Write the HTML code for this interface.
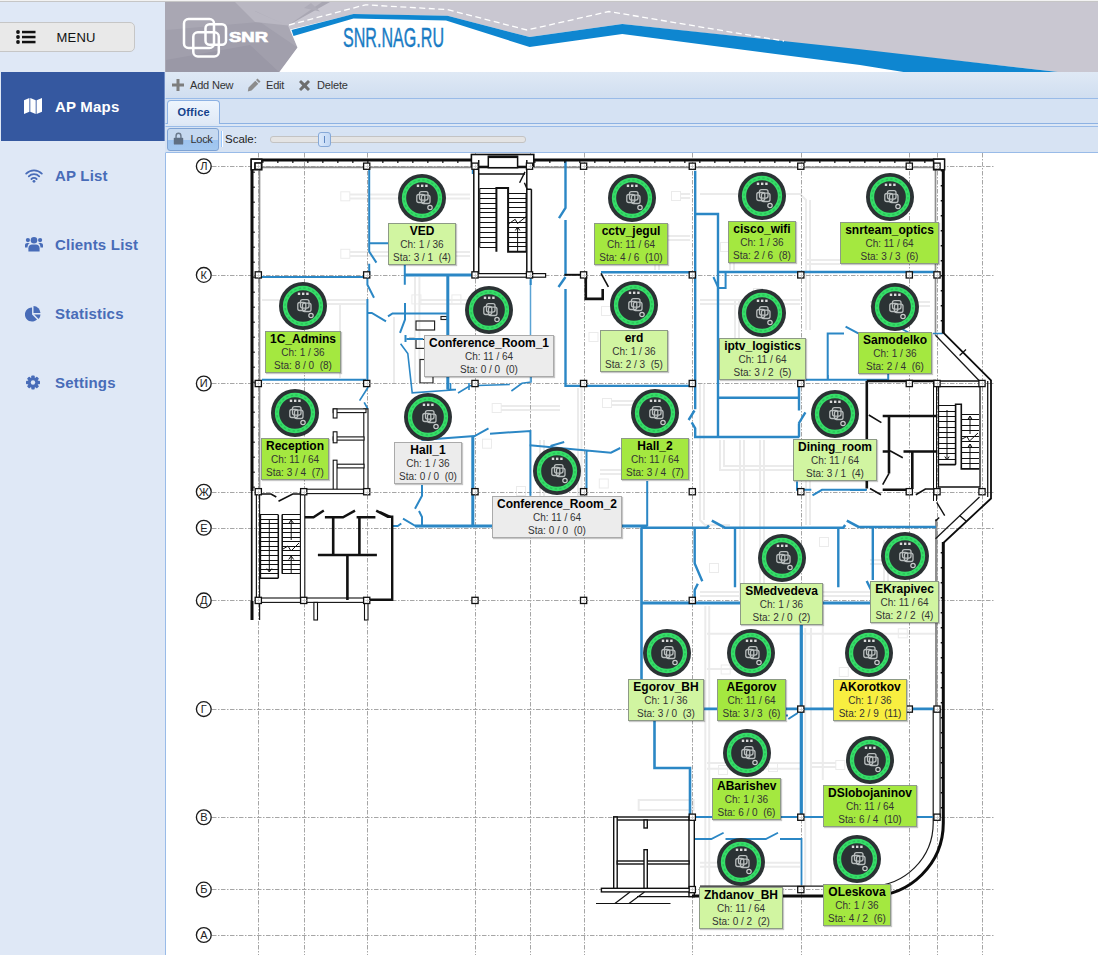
<!DOCTYPE html>
<html lang="en"><head><meta charset="utf-8"><title>SNR.NAG.RU - AP Maps</title>
<style>
html,body{margin:0;padding:0}
body{width:1098px;height:955px;overflow:hidden;position:relative;background:#dfe8f6;font-family:"Liberation Sans",sans-serif;}
#topline{position:absolute;left:0;top:0;width:1098px;height:1px;background:#f2f2f2;border-bottom:1px solid #c6c6c6}
#side{position:absolute;left:0;top:2px;width:165px;height:953px;background:#dfe8f6;}
#menubtn{position:absolute;left:-1px;top:20px;width:134px;height:28px;background:#e9e9e9;border:1px solid #c6c6c6;border-radius:0 5px 5px 0;}
#menubtn span{position:absolute;left:56.500px;top:7px;font-size:13px;letter-spacing:.2px;color:#111;}
#menubtn svg{position:absolute;left:16px;top:7px}
.mi{position:absolute;left:0;width:165px;height:69px;color:#486cb8;font-weight:bold;font-size:15px;}
.mi span{position:absolute;left:55px;top:26px;line-height:17px;white-space:nowrap;letter-spacing:.2px}
.mi svg{position:absolute;left:24px;top:25px}
.mi.act{background:#3558a0;color:#fff;left:1px;width:163px;border-right:1px solid #6f8cc4}
.mi.act span{left:54px}.mi.act svg{left:23px}
#hdr{border-left:1px solid #a9a7b3;position:absolute;left:165px;top:2px;width:932px;height:70px;overflow:hidden;background:#c9c7d1}
#tb1{border-left:1px solid #d9e4f3;position:absolute;left:165px;top:72px;width:932px;height:26px;background:linear-gradient(#dfe9f5,#d0def0);border-bottom:1px solid #99bbe8;font-size:11px;color:#333}
#tb1 span{position:absolute;top:7px;line-height:13px;letter-spacing:-.18px}
#tb1 svg{position:absolute}
#tabs{border-left:1px solid #d5e2f3;position:absolute;left:165px;top:99px;width:932px;height:24px;background:#d5e2f3;border-bottom:1px solid #8db2e3}
#tab{position:absolute;left:1px;top:1px;width:51px;height:23px;border:1px solid #8db2e3;border-bottom:0;border-radius:4px 4px 0 0;background:linear-gradient(#eef5fd,#dfe9f6);}
#tab span{position:absolute;left:9.500px;top:5px;font-size:11px;font-weight:bold;color:#15428b;line-height:13px;letter-spacing:.2px}
#tabsp{position:absolute;left:165px;top:124px;width:933px;height:2px;background:#dce7f5}
#tb2{border-left:1px solid #d7e3f3;position:absolute;left:165px;top:126px;width:933px;height:25px;background:#d7e3f3;border-bottom:1px solid #99bbe8;border-top:1px solid #99bbe8;box-sizing:border-box;height:27px}
#lock{position:absolute;left:1px;top:1px;width:50px;height:21px;border:1px solid #7fa3d4;border-radius:3px;background:linear-gradient(#c6d9f0 0,#c6d9f0 50%,#9dc3ef 51%,#a4c8f0 100%);}
#lock span{position:absolute;left:22.500px;top:4px;letter-spacing:-.3px;font-size:11px;color:#333;line-height:13px}
#lock svg{position:absolute;left:4.500px;top:3px}
#sep{position:absolute;left:55px;top:4px;width:1px;height:16px;background:#98c8ff;border-right:1px solid #fff}
#scale{position:absolute;left:59px;top:5px;font-size:11.500px;color:#222;line-height:14px}
#track{position:absolute;left:104px;top:9px;width:254px;height:5px;border:1px solid #c3c3c3;border-radius:3px;background:#e4e4e4;}
#thumb{position:absolute;left:152px;top:5px;width:11px;height:13px;border:1px solid #86a9d8;border-radius:3px;background:linear-gradient(90deg,#dbe9fb,#c1d7f4)}
#thumb i{position:absolute;left:5px;top:3px;width:1px;height:7px;background:#5e86c0}
#map{position:absolute;left:165px;top:153px;width:933px;height:802px;background:#fff;overflow:hidden;border-left:1px solid #99bbe8;box-sizing:border-box}
#plan{position:absolute;left:-166px;top:-153px}
.ic{position:absolute}
.lb{position:absolute;white-space:nowrap;border:1px solid #8d9a86;padding:0 4px;text-align:center;color:#333;font-size:10px;line-height:13px;height:40px;box-shadow:1px 1px 1px rgba(0,0,0,.22)}
.lb b{display:block;font-size:12px;line-height:14px;color:#000}
.lb span{display:block}
.lb.g{background:#a4e840}.lb.l{background:#d1f5a1}.lb.z{background:#ececec;border-color:#aaa}.lb.y{background:#f8ee40}
</style>
</head>
<body>
<svg width="0" height="0" style="position:absolute"><defs>
<symbol id="apic" viewBox="0 0 48 48">
<circle cx="24" cy="24" r="24" fill="#2b3234"/>
<circle cx="24" cy="24" r="18" fill="none" stroke="#36dd68" stroke-width="4.300"/>
<circle cx="24" cy="24" r="18" fill="none" stroke="#23b552" stroke-width="1.300" stroke-dasharray="2.400 2.300" opacity=".7"/>
<rect x="18.8" y="10.6" width="2.4" height="2.4" fill="#dcdcdc"/><rect x="23" y="10.6" width="2.4" height="2.4" fill="#dcdcdc"/><rect x="27.2" y="10.6" width="2.4" height="2.4" fill="#dcdcdc"/>
<g fill="none" stroke="#b9bebe" stroke-width="1.300"><rect x="18.800" y="20.500" width="8" height="8" rx="2"/><rect x="21.500" y="17.600" width="8.500" height="8.500" rx="2"/><rect x="23.500" y="21.200" width="8.500" height="8.300" rx="2"/></g>
<circle cx="32" cy="33.5" r="2.2" fill="none" stroke="#c9cccc" stroke-width="1.2"/>
</symbol></defs></svg>
<div id="topline"></div>
<div id="side">
 <div id="menubtn"><svg width="20" height="14" viewBox="0 0 20 14"><g fill="#111"><circle cx="2" cy="2" r="1.9"/><circle cx="2" cy="7" r="1.9"/><circle cx="2" cy="12" r="1.9"/><rect x="6" y=".8" width="13.5" height="2.5"/><rect x="6" y="5.8" width="13.5" height="2.5"/><rect x="6" y="10.8" width="13.5" height="2.5"/></g></svg><span>MENU</span></div>
 <div class="mi act" style="top:70px"><svg width="18" height="18" viewBox="0 0 18 18"><path fill="#fff" d="M0 3.2 5.4 1v13.8L0 17zM6.3 1l5.4 2.2V17l-5.4-2.2zM12.6 3.2 18 1v13.8L12.6 17z"/></svg><span>AP Maps</span></div>
 <div class="mi" style="top:139px"><svg style="left:25px;top:27.500px" width="18" height="14" viewBox="0 0 18 14"><g fill="none" stroke="#486cb8" stroke-width="1.800" stroke-linecap="round"><path d="M1.200 4.600a11 11 0 0 1 15.600 0"/><path d="M3.800 7.300a7.300 7.300 0 0 1 10.400 0"/><path d="M6.400 10a3.700 3.700 0 0 1 5.200 0"/></g><circle cx="9" cy="12.300" r="1.400" fill="#486cb8"/></svg><span>AP List</span></div>
 <div class="mi" style="top:208px"><svg style="left:25px" width="18" height="18" viewBox="0 0 18 18"><g fill="#486cb8"><circle cx="9" cy="5.2" r="3.3"/><path d="M3.4 16.5v-3.3c0-2.2 1.6-3.6 3.6-3.6h4c2 0 3.6 1.400 3.600 3.600v3.300z"/><circle cx="2.900" cy="5.100" r="2.100"/><circle cx="15.100" cy="5.100" r="2.100"/><path d="M0 12.500v-2.300c0-1.400 1-2.300 2.300-2.300h2.500c-1.600 1-2.300 2.500-2.300 4.600zM18 12.500v-2.300c0-1.400-1-2.300-2.300-2.300h-2.500c1.600 1 2.300 2.500 2.300 4.600z"/></g></svg><span>Clients List</span></div>
 <div class="mi" style="top:277px"><svg style="left:24.500px;top:26px" width="16.500" height="16.500" viewBox="0 0 18 18"><g fill="#486cb8"><path d="M7.700 2.600v7.700l5.400 5.400a7.700 7.700 0 1 1-5.400-13.100z"/><path d="M9.300 1.200a7.700 7.700 0 0 1 7.600 7.600h-7.600z"/><path d="M10 10.300h6.900a7.700 7.700 0 0 1-2 4.900z"/></g></svg><span>Statistics</span></div>
 <div class="mi" style="top:346px"><svg width="18" height="18" viewBox="0 0 18 18"><g transform="translate(9 9.500)"><g fill="#486cb8"><rect x="-1.700" y="-7" width="3.400" height="14" rx=".8"/><rect x="-1.700" y="-7" width="3.400" height="14" rx=".8" transform="rotate(45)"/><rect x="-1.700" y="-7" width="3.400" height="14" rx=".8" transform="rotate(90)"/><rect x="-1.700" y="-7" width="3.400" height="14" rx=".8" transform="rotate(135)"/><circle r="5.200"/></g><circle r="2.200" fill="#dfe8f6"/></g></svg><span>Settings</span></div>
</div>
<div id="hdr">
<svg width="932" height="70" viewBox="166 2 932 70">
 <rect x="166" y="2" width="932" height="70" fill="#c9c7d1"/>
 <polygon points="166,2 330,2 288,25.400 297.500,47.500 279,72 166,72" fill="#a9a7b3"/>
 <polygon points="166,30 260,22 297.500,47.500 279,72 166,72" fill="#a19fac"/>
 <polygon points="235,2 322,2 288,25.400 255,22" fill="#b9b7c2"/><polygon points="237,3 284.700,24.600 266,16" fill="#a4a2ae"/><polygon points="304,8 311,3 320,11.500" fill="#aeacb8"/>
 <polygon points="166,60 250,45 279,72 166,72" fill="#9a98a6"/>
 <polygon points="290,29.500 353.500,14.200 447.500,15.800 529.600,37 622.300,24 1058,72 279.500,72 297.500,47.500" fill="#fff"/>
 <polygon points="291.500,30 353.500,14 447.500,15.800 529.600,37 622.300,24 860,49.200 1058,72 903.500,72 860,65 622.300,34 529.600,47 446,20.500 353.500,18.500 293.500,36" fill="#0e86d0"/>
 <polyline points="289,25 365.500,4.800 447.500,9.600 527,30 609,11.500 784,41" fill="none" stroke="#fff" stroke-width="1.300" stroke-dasharray="6 3.500"/>
 <g fill="none" stroke="#fff" stroke-width="2.500"><rect x="184" y="19" width="30" height="29" rx="4.500"/><rect x="205.500" y="24.200" width="20.500" height="20.500" rx="4"/><rect x="193.300" y="32.300" width="25.500" height="24.200" rx="4.500"/></g>
 <text x="229" y="41.500" font-family="Liberation Sans, sans-serif" font-weight="bold" font-size="14.800" fill="#fff" stroke="#fff" stroke-width=".700" textLength="39" lengthAdjust="spacingAndGlyphs">SNR</text>
 <text x="343" y="47" font-family="Liberation Sans, sans-serif" font-size="28" fill="#1a7cc4" stroke="#1a7cc4" stroke-width=".450" textLength="101" lengthAdjust="spacingAndGlyphs">SNR.NAG.RU</text>
</svg>
</div>
<div id="tb1">
 <svg style="left:6px;top:7px" width="12" height="12" viewBox="0 0 12 12"><path d="M4.500 0h3v4.500H12v3H7.500V12h-3V7.500H0v-3h4.500z" fill="#7d7d7d"/></svg><span style="left:24px">Add New</span>
 <svg style="left:81px;top:6px" width="14" height="14" viewBox="0 0 14 14"><path d="M10.500.5 13.500 3.500 12 5 9 2zM8.300 2.700l3 3L4.500 12.500.800 13.500 1.500 9.500z" fill="#8c8c8c"/></svg><span style="left:100px">Edit</span>
 <svg style="left:133px;top:8px" width="11" height="11" viewBox="0 0 11 11"><path d="M2 0 5.500 3.300 9 0 11 2 7.700 5.500 11 9 9 11 5.500 7.700 2 11 0 9 3.300 5.500 0 2z" fill="#6e6e6e"/></svg><span style="left:151px">Delete</span>
</div>
<div id="tabs"><div id="tab"><span>Office</span></div></div>
<div id="tabsp"></div>
<div id="tb2">
 <div id="lock"><svg width="11" height="13" viewBox="0 0 14 15" preserveAspectRatio="none"><path d="M3 7V4.500a4 4 0 0 1 8 0V7h-1.800V4.500a2.200 2.200 0 0 0-4.400 0V7z" fill="#6b7a8c"/><rect x="1" y="6.500" width="12" height="8" rx="1" fill="#5f6f83"/></svg><span>Lock</span></div>
 <div id="sep"></div><div id="scale">Scale:</div><div id="track"></div><div id="thumb"><i></i></div>
</div>

<div id="map">
<svg id="plan" width="1098" height="955" viewBox="0 0 1098 955">
<g fill="none" stroke="#ebebeb" stroke-width="1">
<rect x="340.8" y="191.8" width="9" height="9"/>
<rect x="340.8" y="249.3" width="9" height="9"/>
<rect x="411.9" y="294.9" width="9" height="9"/>
<rect x="451.9" y="294.9" width="9" height="9"/>
<rect x="492.2" y="403.5" width="9" height="9"/>
<rect x="482.5" y="439.2" width="9" height="9"/>
<rect x="602.5" y="398.5" width="9" height="9"/>
<rect x="599.3" y="479.0" width="9" height="9"/>
<rect x="516.5" y="486.5" width="9" height="9"/>
<rect x="671.5" y="191.5" width="9" height="9"/>
<rect x="720.5" y="242.5" width="9" height="9"/>
<rect x="589.0" y="332.5" width="9" height="9"/>
<rect x="753.5" y="288.5" width="9" height="9"/>
<rect x="709.5" y="563.5" width="9" height="9"/>
<rect x="791.5" y="555.5" width="9" height="9"/>
<rect x="819.5" y="537.5" width="9" height="9"/>
<rect x="893.5" y="543.5" width="9" height="9"/>
<rect x="901.5" y="304.5" width="9" height="9"/>
<rect x="721.2" y="665.0" width="9" height="9"/>
<rect x="839.3" y="667.5" width="9" height="9"/>
<rect x="898.3" y="628.8" width="9" height="9"/>
<rect x="718.5" y="765.5" width="9" height="9"/>
<rect x="768.5" y="762.5" width="9" height="9"/>
<rect x="835.8" y="760.5" width="9" height="9"/>
<rect x="601.5" y="306.5" width="9" height="9"/>
<path d="M350,194.500H470M350,198.500H470M350,252H388M350,256H388M456,252H470M456,256H470" stroke-width="2"/>
<path d="M262,300H366M300,304H366M340,304V378M415,277V383M419.400,277V383M394,317V383M420,300H470M420,304H470" stroke-width="2"/>
<path d="M501,406H560M501,410H560M578,388V520M581.500,388V520M540,440V520M544,440V520" stroke-width="2"/>
<path d="M680,194H690M680,198H690M600,236H690M600,240H690M655,240V270M659,240V270" stroke-width="2"/>
<path d="M700,194H800L806,200V330M810,200V330M730,247V270M734,247V270M700,300H800M700,304H800M735,300V378M739,300V378" stroke-width="2"/>
<path d="M806,260H840M806,264H840M870,302H930M870,306H930" stroke-width="2"/>
<path d="M600,470H640M600,474H640M612,401H650M612,405H650M700,383V520L705,525H730M704,383V520" stroke-width="2"/>
<path d="M720,440V470H800M724,440V466H800M740,440V600M744,440V600M760,440V600M764,440V600" stroke-width="2"/>
<path d="M806,440V525M810,440V525M705.300,606V886M709.200,606V886M805.200,628V886M811,628V886M822.800,606V780" stroke-width="2"/>
<path d="M700,596H935M700,592H935M707,633.700H935M707,669H760M707,763H800M707,768.800H800M638.700,800H693.600V810H638.700ZM812,763H836M812,767H836M700,862.800H800M700,866.700H800" stroke-width="2"/>
<path d="M870,560H900M870,564H900M884,540V600M888,540V600" stroke-width="2"/>
</g>
<g fill="none" stroke="#1e1e1e" stroke-width="1.150">
<rect x="416" y="321" width="18.600" height="9"/><rect x="416" y="339.400" width="9" height="9"/><rect x="420" y="359.500" width="13" height="23.500"/>
<rect x="441" y="316.500" width="6" height="3"/><path d="M409,338.800H414.500" stroke-width="2"/>
</g>
<g stroke="#a6a6a6" stroke-width="1" stroke-dasharray="4.500 1.500 1.500 1.500" fill="none">
<line x1="258.5" y1="153" x2="258.5" y2="955"/>
<line x1="304.5" y1="153" x2="304.5" y2="955"/>
<line x1="367.5" y1="153" x2="367.5" y2="955"/>
<line x1="475.5" y1="153" x2="475.5" y2="955"/>
<line x1="530.5" y1="153" x2="530.5" y2="955"/>
<line x1="584.5" y1="153" x2="584.5" y2="955"/>
<line x1="692.5" y1="153" x2="692.5" y2="955"/>
<line x1="801.5" y1="153" x2="801.5" y2="955"/>
<line x1="909.5" y1="153" x2="909.5" y2="955"/>
<line x1="937.5" y1="153" x2="937.5" y2="955"/>
<line x1="982.5" y1="153" x2="982.5" y2="955"/>
<line x1="212" y1="166.5" x2="994" y2="166.5"/>
<line x1="212" y1="275.5" x2="994" y2="275.5"/>
<line x1="212" y1="383.5" x2="994" y2="383.5"/>
<line x1="212" y1="492.5" x2="994" y2="492.5"/>
<line x1="212" y1="528.5" x2="994" y2="528.5"/>
<line x1="212" y1="600.5" x2="994" y2="600.5"/>
<line x1="212" y1="709.5" x2="994" y2="709.5"/>
<line x1="212" y1="817.5" x2="994" y2="817.5"/>
<line x1="212" y1="889.5" x2="994" y2="889.5"/>
<line x1="212" y1="935.5" x2="994" y2="935.5"/>
</g>
<g font-family="Liberation Sans, sans-serif" font-size="11" text-anchor="middle" fill="#222">
<circle cx="203.800" cy="166.2" r="7.400" fill="#fff" stroke="#1c1c1c" stroke-width="1.350"/><text x="203.800" y="170">Л</text>
<circle cx="203.800" cy="274.9" r="7.400" fill="#fff" stroke="#1c1c1c" stroke-width="1.350"/><text x="203.800" y="278.7">К</text>
<circle cx="203.800" cy="383.5" r="7.400" fill="#fff" stroke="#1c1c1c" stroke-width="1.350"/><text x="203.800" y="387.3">И</text>
<circle cx="203.800" cy="491.7" r="7.400" fill="#fff" stroke="#1c1c1c" stroke-width="1.350"/><text x="203.800" y="495.5">Ж</text>
<circle cx="203.800" cy="527.7" r="7.400" fill="#fff" stroke="#1c1c1c" stroke-width="1.350"/><text x="203.800" y="531.5">Е</text>
<circle cx="203.800" cy="600.4000000000001" r="7.400" fill="#fff" stroke="#1c1c1c" stroke-width="1.350"/><text x="203.800" y="604.2">Д</text>
<circle cx="203.800" cy="709.1" r="7.400" fill="#fff" stroke="#1c1c1c" stroke-width="1.350"/><text x="203.800" y="712.9">Г</text>
<circle cx="203.800" cy="817.2" r="7.400" fill="#fff" stroke="#1c1c1c" stroke-width="1.350"/><text x="203.800" y="821">В</text>
<circle cx="203.800" cy="889.6" r="7.400" fill="#fff" stroke="#1c1c1c" stroke-width="1.350"/><text x="203.800" y="893.4">Б</text>
<circle cx="203.800" cy="935.0" r="7.400" fill="#fff" stroke="#1c1c1c" stroke-width="1.350"/><text x="203.800" y="938.8">А</text>
</g>
<g fill="none" stroke="#8e8e8e" stroke-width="1.700">
<path d="M259.500,491V167.300H472M534,167.300H935.500V335.500" stroke-width="1.7"/>
<path d="M936.200,519V709" stroke-width="2.4"/>
</g><g fill="none" stroke="#1a1a1a" stroke-width="1.200">
<path d="M935.500,335.300L979.500,381M979.500,497L935.500,538.700M987.700,381V497" stroke-width="1.3"/>
<path d="M256.400,491V598M259.600,491V598M259.600,602V620" stroke-width="1.2"/>
<rect x="933.200" y="709" width="6.900" height="108" fill="#fff"/>
<path d="M933.200,817V823A63.200,63.200 0 0 1 870,886.200H700" stroke-width="1.2"/>
</g>
<g fill="none" stroke="#2b87c5" stroke-linecap="butt" stroke-linejoin="miter">
<path d="M369.200,169.700V251.600L376.400,262.600M369.200,243.300H388M369.200,263.700V275" stroke-width="2"/>
<path d="M262,277H365M262,379.800H366" stroke-width="2"/>
<path d="M367.400,275V284.700L374,297.800M367.400,299V381M367.400,313H371.800L386,321.400" stroke-width="2"/>
<path d="M404.800,265V284.700M405,303V319.600L400,332.800M406.700,339H423M405.500,335V342" stroke-width="2"/>
<path d="M404.800,275H472" stroke-width="3"/>
<path d="M447.800,276V389.600" stroke-width="3"/>
<path d="M388,316.400L392.500,313.500H447.800" stroke-width="2"/>
<path d="M400.600,343.700L407.800,353.500L412.200,392.900L455.800,389.700M447.500,389.600H456M450.500,383V390M469,383V390" stroke-width="1.6"/>
<path d="M458,393L470,385.700L509.800,384.500M511.400,391L522,383.300L531.500,382M531,375V382" stroke-width="1.6"/>
<path d="M530.500,280V383" stroke-width="1.5" stroke="#5aa3d4"/>
<path d="M565.500,161V208L559,218.200M565.500,220V275.700M565.500,277L558.500,287M565.500,289V385.900H694.500" stroke-width="2.4"/>
<path d="M601,272.200H692" stroke-width="2.4"/>
<path d="M472.800,169.800V174M530.700,278V285" stroke-width="2"/>
<path d="M902,329L908.500,332.500M933,333.500H942.700M368.200,387L359.600,400.600M364.200,402.400L367.800,409" stroke-width="1.7"/>
<path d="M695.200,170.800V409.300M694.500,410.500L688.600,420M691.700,422.400L695.200,428.300V437H799.400" stroke-width="2.4"/>
<path d="M695,214H718V437" stroke-width="2.4"/>
<path d="M718,272H935" stroke-width="2.4"/>
<path d="M725.600,272V288H718M713.400,277L718,287" stroke-width="2"/>
<path d="M805.200,379.800H889M888.200,374V380M827.700,380V333.400H844M845.600,326.600L858.300,333.400M827.900,375V379.700" stroke-width="2"/>
<path d="M718,397.700H798.600" stroke-width="2.4"/>
<path d="M799,383V410.500M805.400,412.400L798.700,423.500M799,423.500V437" stroke-width="2.4"/>
<path d="M421.400,440L474.700,436L488.500,428.300M490,433.700L530.400,431V495.800" stroke-width="2"/>
<path d="M472.800,436V526" stroke-width="3"/>
<path d="M393,526H397.700L401.300,523.500M403,518.700L415.500,526" stroke-width="2"/>
<path d="M415,526H647.200" stroke-width="3"/>
<path d="M529.700,445.300L610.900,452.700L620.300,448M550.500,446L564.200,442M586.500,450.300V488.700" stroke-width="2"/>
<path d="M422,485V495.800L415,508.800M419,511L422,517V526M647.200,481V526.500" stroke-width="2"/>
<path d="M640.800,527.700H707L709,525.500M711.800,520.600L724.800,527.700H843.200L845.200,525M846.800,520.600L858.600,527H936" stroke-width="2.6"/>
<path d="M641.500,527.700V680M654.500,721V768H690V817" stroke-width="2.6"/>
<path d="M694.700,527V563.500L702.300,581.300M697.800,583.700L694.700,590V600M735,527V587.200M838.300,527V587.200M872.800,527.500V580M866.700,581L871,589.800" stroke-width="2.4"/>
<path d="M641,603H871" stroke-width="3"/>
<path d="M801.300,625V817" stroke-width="3.2"/>
<path d="M704.200,708.900H937" stroke-width="2.6"/>
<path d="M692,817H937" stroke-width="2"/>
<path d="M692,839H711.300L723.600,832.700M725.500,839H765.800L778,832.700M780,839H801.500V885" stroke-width="1.8"/>
<path d="M783.500,715.500H788M788.300,719L797.700,713" stroke-width="2"/>
<path d="M797,481.600V489.800H811.300M812.500,495.300L822,489.800H867M850,490H866" stroke-width="2"/>
</g>
<g fill="none" stroke="#111" stroke-linecap="butt">
<rect x="473.800" y="166" width="57.600" height="109" fill="#fff" stroke="none"/>
<rect x="471.400" y="154.500" width="62.400" height="12" fill="#fff" stroke-width="1.600"/>
<path d="M473.800,166V275M478.700,160V275M526.800,160V275M531.400,189.300V275" stroke-width="1.5"/>
<rect x="488.300" y="156.200" width="29.300" height="11.500" fill="#fff" stroke-width="1.500"/>
<path d="M488.300,157H517.600" stroke-width="2.2"/>
<path d="M478.700,167.700H526.800M478.700,174H525" stroke-width="1.3"/>
<path d="M479.8,188.2H496.4M479.8,193.1H496.4M479.8,198.1H496.4M479.8,203.0H496.4M479.8,208.0H496.4M479.8,212.9H496.4M479.8,217.8H496.4M479.8,222.8H496.4M479.8,227.7H496.4M479.8,232.7H496.4M479.8,237.6H496.4M479.8,242.6H496.4M479.8,247.5H496.4" stroke-width="1" shape-rendering="crispEdges"/>
<path d="M508.1,193.1H526M508.1,198.0H526M508.1,202.9H526M508.1,207.8H526M508.1,212.7H526M508.1,217.6H526M508.1,222.4H526M508.1,227.3H526M508.1,232.2H526M508.1,237.1H526M508.1,242.0H526M508.1,246.9H526M508.1,251.8H526" stroke-width="1" shape-rendering="crispEdges"/>
<path d="M496.400,251.800V187.900H508.100V251.800H526" stroke-width="2"/>
<path d="M479.800,188.200V247.500M526,193.100V251.800" stroke-width="1"/>
<path d="M517.600,227V251.800M508.100,224.200L515.200,219.300L517.500,223.500L526.800,216.100M515.300,230.500L517.600,227L519.900,230.500" stroke-width="1"/>
<path d="M525,171.900L519.600,182.800M524.400,182.800L527.200,189.300H531.400" stroke-width="1.4"/>
<rect x="473.800" y="273.600" width="71.800" height="3.600" fill="#fff" stroke-width="1.200"/>
<path d="M564.400,274.800H583" stroke-width="2"/>
<path d="M585.800,277V298.900H602.700V289" stroke-width="2.6"/>
<path d="M601,273.300L608.400,286.900" stroke-width="1.6"/>
<g fill="#fff" stroke-width="1.100">
<rect x="363.8" y="408.9" width="4.2" height="82.1"/>
<rect x="333.2" y="408.9" width="32.8" height="3.7"/>
<rect x="333.2" y="408.9" width="3.8" height="9.1"/>
<rect x="333.2" y="436.9" width="30.8" height="3.2"/>
<rect x="333.2" y="431.8" width="3.8" height="11.0"/>
<rect x="337" y="464.2" width="27.0" height="3.7"/>
<rect x="333.2" y="460.2" width="3.8" height="30.8"/>
<rect x="303.7" y="489.2" width="62.9" height="4.4"/>
<rect x="300.4" y="491.6" width="4.4" height="108.6"/>
<rect x="258.4" y="598" width="108.2" height="4.4"/>
<rect x="313.9" y="602.4" width="3.6" height="17.6"/>
<rect x="364.5" y="602.4" width="3.5" height="17.6"/>
</g>
<path d="M260.4,514.5H278.3M260.4,519.1H278.3M260.4,523.6H278.3M260.4,528.2H278.3M260.4,532.7H278.3M260.4,537.3H278.3M260.4,541.8H278.3M260.4,546.4H278.3M260.4,550.9H278.3M260.4,555.5H278.3M260.4,560.0H278.3M260.4,564.6H278.3M260.4,569.1H278.3M260.4,573.7H278.3" stroke-width="1" shape-rendering="crispEdges"/>
<path d="M282.2,514.5H300.4M282.2,519.1H300.4M282.2,523.6H300.4M282.2,528.2H300.4M282.2,532.7H300.4M282.2,537.3H300.4M282.2,541.8H300.4M282.2,546.4H300.4M282.2,550.9H300.4M282.2,555.5H300.4M282.2,560.0H300.4M282.2,564.6H300.4M282.2,569.1H300.4M282.2,573.7H300.4" stroke-width="1" shape-rendering="crispEdges"/>
<path d="M278.300,514.500V578.200M282.200,514.500V573.700M260.400,514.500V578.200H278.300" stroke-width="1.5"/>
<path d="M269.300,520V572M266.800,568.500L269.300,572L271.800,568.500M291.200,520V540M291.200,556V573M288.700,523.500L291.200,520L293.700,523.500M288.700,559.500L291.200,556L293.700,559.500M283,549L288,546L291,551L299,543" stroke-width="1"/>
<path d="M262,494H271L276.300,497M278.500,501.300L292.700,494H303" stroke-width="1.6"/>
<path d="M304.800,517.200H313.500L323.800,510.600M324.900,517.200H343L355,510.600M356.600,517.200H375.400M376.200,510.600L387.800,516.700H392.200V599.800H366.600" stroke-width="2.4"/>
<path d="M333.200,517.200V555M359.400,517.200V555M317.900,555H376.900M347.400,555V600" stroke-width="2.6"/>
<path d="M380,512L390.700,517" stroke-width="2"/>
<path d="M866.800,381V488.500M866.800,381H936M882.700,416H936M889,416V473.400M882.700,451.500H890.200M903.500,451.500H936M912.300,451.500V489M882.700,489.700H912" stroke-width="2.6"/>
<path d="M868.800,415L881.400,422.600M890,450.800L902.800,457.800M889,473.400L882.700,484.700M870,488.500L881,494.800M915.800,494.800L925.400,489H936" stroke-width="1.6"/>
<path d="M936.700,502.300L944.700,515.600M939.200,517.400L935.500,521" stroke-width="1.4"/>
<path d="M936,381H982M936,386.700H980M938.500,386.700V487H980V386.700" stroke-width="1.3"/>
<path d="M936.500,381V501M933.500,381V501" stroke-width="1" shape-rendering="crispEdges"/>
<path d="M939.2,405.6H955.6M939.2,411.0H955.6M939.2,416.3H955.6M939.2,421.7H955.6M939.2,427.1H955.6M939.2,432.4H955.6M939.2,437.8H955.6M939.2,443.1H955.6M939.2,448.5H955.6M939.2,453.9H955.6M939.2,459.2H955.6M939.2,464.6H955.6" stroke-width="1" shape-rendering="crispEdges"/>
<path d="M961.3,414.4H979.4M961.3,419.8H979.4M961.3,425.3H979.4M961.3,430.8H979.4M961.3,436.2H979.4M961.3,441.6H979.4M961.3,447.1H979.4M961.3,452.5H979.4M961.3,458.0H979.4M961.3,463.4H979.4M961.3,468.9H979.4" stroke-width="1" shape-rendering="crispEdges"/>
<path d="M955.600,464.600V404.300H961.300V468.900H979.400M939.200,464.600H955.600" stroke-width="1.6"/>
<path d="M947,410V460M944.800,456.500L947,460L949.200,456.500M970,416V434M970,444V468M967.800,419.500L970,416L972.200,419.500M967.800,447.500L970,444L972.200,447.500M962,439L967,436.500L969.500,441L978,433" stroke-width="1"/>
<path d="M959.600,515.500L966,521M959.600,355.500L966,349.500" stroke-width="1.3"/>
<g fill="#fff" stroke-width="1.400">
<rect x="613.7" y="817" width="78.3" height="3.0"/>
<rect x="613.7" y="817" width="3.5" height="71.8"/>
<rect x="689" y="817" width="5.3" height="79.6"/>
<rect x="617.2" y="861" width="71.8" height="3.0"/>
<rect x="644" y="820" width="3.3" height="8.0"/>
<rect x="644" y="849.7" width="3.3" height="39.3"/>
<rect x="601.4" y="888.3" width="90.6" height="3.6"/>
</g>
<path d="M630,892L614.900,903.500M644.500,892L629,903.500M596,903.500H670.500M637,896.600H692" stroke-width="1.2"/>
</g>
<g fill="none" stroke="#0c0c0c" stroke-width="3.200" stroke-linejoin="miter">
<path d="M252,491V160H472M534,160H943.300V333.500M943.300,542V823A73,73 0 0 1 870,896H692M252,601V620" stroke-width="3"/>
<path d="M251.700,491V601" stroke-width="1.7"/>
<path d="M943.300,332.700L991,380.400V498.500L943.300,543" stroke-width="1.8"/>
</g>
<g fill="none" stroke="#0c0c0c" stroke-dasharray="1.600 13.400">
<path d="M254,488V170M262,162H472M534,162H933M941.400,170V332M941.400,552V820" stroke-width="1.3"/>
</g>
<rect x="933.600" y="159.200" width="11" height="10.600" fill="#fff" stroke="#111" stroke-width="1.500"/>
<rect x="251.200" y="159.200" width="10.600" height="10.600" fill="#fff" stroke="#111" stroke-width="1.500"/>
<path d="M254.800,169.800V163H261.800" fill="none" stroke="#111" stroke-width="1.300"/>
<g fill="#fff" stroke="#111" stroke-width="1.300">
<rect x="255.2" y="163.1" width="6.200" height="6.200"/>
<rect x="363.6" y="163.1" width="6.200" height="6.200"/>
<rect x="471.9" y="163.1" width="6.200" height="6.200"/>
<rect x="526.4" y="163.1" width="6.200" height="6.200"/>
<rect x="580.5" y="163.1" width="6.200" height="6.200"/>
<rect x="689.2" y="163.1" width="6.200" height="6.200"/>
<rect x="797.7" y="163.1" width="6.200" height="6.200"/>
<rect x="906.2" y="163.1" width="6.200" height="6.200"/>
<rect x="933.9" y="163.1" width="6.200" height="6.200"/>
<rect x="255.2" y="271.8" width="6.200" height="6.200"/>
<rect x="363.6" y="271.8" width="6.200" height="6.200"/>
<rect x="471.9" y="271.8" width="6.200" height="6.200"/>
<rect x="526.4" y="271.8" width="6.200" height="6.200"/>
<rect x="580.5" y="271.8" width="6.200" height="6.200"/>
<rect x="689.2" y="271.8" width="6.200" height="6.200"/>
<rect x="797.7" y="271.8" width="6.200" height="6.200"/>
<rect x="906.2" y="271.8" width="6.200" height="6.200"/>
<rect x="933.9" y="271.8" width="6.200" height="6.200"/>
<rect x="255.2" y="380.4" width="6.200" height="6.200"/>
<rect x="363.6" y="380.4" width="6.200" height="6.200"/>
<rect x="471.9" y="380.4" width="6.200" height="6.200"/>
<rect x="580.5" y="380.4" width="6.200" height="6.200"/>
<rect x="689.2" y="380.4" width="6.200" height="6.200"/>
<rect x="797.7" y="380.4" width="6.200" height="6.200"/>
<rect x="906.2" y="380.4" width="6.200" height="6.200"/>
<rect x="933.9" y="380.4" width="6.200" height="6.200"/>
<rect x="978.9" y="380.4" width="6.200" height="6.200"/>
<rect x="255.2" y="488.6" width="6.200" height="6.200"/>
<rect x="300.6" y="488.6" width="6.200" height="6.200"/>
<rect x="363.6" y="488.6" width="6.200" height="6.200"/>
<rect x="471.9" y="488.6" width="6.200" height="6.200"/>
<rect x="580.5" y="488.6" width="6.200" height="6.200"/>
<rect x="689.2" y="488.6" width="6.200" height="6.200"/>
<rect x="797.7" y="488.6" width="6.200" height="6.200"/>
<rect x="906.2" y="488.6" width="6.200" height="6.200"/>
<rect x="933.9" y="488.6" width="6.200" height="6.200"/>
<rect x="978.9" y="488.6" width="6.200" height="6.200"/>
<rect x="255.2" y="597.3" width="6.200" height="6.200"/>
<rect x="300.6" y="597.3" width="6.200" height="6.200"/>
<rect x="363.6" y="597.3" width="6.200" height="6.200"/>
<rect x="471.9" y="597.3" width="6.200" height="6.200"/>
<rect x="580.5" y="597.3" width="6.200" height="6.200"/>
<rect x="689.2" y="597.3" width="6.200" height="6.200"/>
<rect x="797.7" y="706.0" width="6.200" height="6.200"/>
<rect x="906.2" y="706.0" width="6.200" height="6.200"/>
<rect x="933.9" y="706.0" width="6.200" height="6.200"/>
<rect x="689.2" y="814.1" width="6.200" height="6.200"/>
<rect x="797.7" y="814.1" width="6.200" height="6.200"/>
<rect x="933.9" y="814.1" width="6.200" height="6.200"/>
<rect x="689.2" y="886.5" width="6.200" height="6.200"/>
<rect x="797.7" y="886.5" width="6.200" height="6.200"/>
</g>
<g stroke="#cfcfcf" stroke-width="1">
<path d="M258.5,164.5v4M256.5,166.5h4"/>
<path d="M367.5,164.5v4M365.5,166.5h4"/>
<path d="M475.5,164.5v4M473.5,166.5h4"/>
<path d="M530.5,164.5v4M528.5,166.5h4"/>
<path d="M584.5,164.5v4M582.5,166.5h4"/>
<path d="M692.5,164.5v4M690.5,166.5h4"/>
<path d="M801.5,164.5v4M799.5,166.5h4"/>
<path d="M909.5,164.5v4M907.5,166.5h4"/>
<path d="M937.5,164.5v4M935.5,166.5h4"/>
<path d="M258.5,273.5v4M256.5,275.5h4"/>
<path d="M367.5,273.5v4M365.5,275.5h4"/>
<path d="M475.5,273.5v4M473.5,275.5h4"/>
<path d="M530.5,273.5v4M528.5,275.5h4"/>
<path d="M584.5,273.5v4M582.5,275.5h4"/>
<path d="M692.5,273.5v4M690.5,275.5h4"/>
<path d="M801.5,273.5v4M799.5,275.5h4"/>
<path d="M909.5,273.5v4M907.5,275.5h4"/>
<path d="M937.5,273.5v4M935.5,275.5h4"/>
<path d="M258.5,381.5v4M256.5,383.5h4"/>
<path d="M367.5,381.5v4M365.5,383.5h4"/>
<path d="M475.5,381.5v4M473.5,383.5h4"/>
<path d="M584.5,381.5v4M582.5,383.5h4"/>
<path d="M692.5,381.5v4M690.5,383.5h4"/>
<path d="M801.5,381.5v4M799.5,383.5h4"/>
<path d="M909.5,381.5v4M907.5,383.5h4"/>
<path d="M937.5,381.5v4M935.5,383.5h4"/>
<path d="M982.5,381.5v4M980.5,383.5h4"/>
<path d="M258.5,490.5v4M256.5,492.5h4"/>
<path d="M304.5,490.5v4M302.5,492.5h4"/>
<path d="M367.5,490.5v4M365.5,492.5h4"/>
<path d="M475.5,490.5v4M473.5,492.5h4"/>
<path d="M584.5,490.5v4M582.5,492.5h4"/>
<path d="M692.5,490.5v4M690.5,492.5h4"/>
<path d="M801.5,490.5v4M799.5,492.5h4"/>
<path d="M909.5,490.5v4M907.5,492.5h4"/>
<path d="M937.5,490.5v4M935.5,492.5h4"/>
<path d="M982.5,490.5v4M980.5,492.5h4"/>
<path d="M258.5,598.5v4M256.5,600.5h4"/>
<path d="M304.5,598.5v4M302.5,600.5h4"/>
<path d="M367.5,598.5v4M365.5,600.5h4"/>
<path d="M475.5,598.5v4M473.5,600.5h4"/>
<path d="M584.5,598.5v4M582.5,600.5h4"/>
<path d="M692.5,598.5v4M690.5,600.5h4"/>
<path d="M801.5,707.5v4M799.5,709.5h4"/>
<path d="M909.5,707.5v4M907.5,709.5h4"/>
<path d="M937.5,707.5v4M935.5,709.5h4"/>
<path d="M692.5,815.5v4M690.5,817.5h4"/>
<path d="M801.5,815.5v4M799.5,817.5h4"/>
<path d="M937.5,815.5v4M935.5,817.5h4"/>
<path d="M692.5,887.5v4M690.5,889.5h4"/>
<path d="M801.5,887.5v4M799.5,889.5h4"/>
</g>
</svg>
<svg class="ic" style="left:232px;top:21px" width="48" height="48" viewBox="0 0 48 48"><use href="#apic"/></svg><div class="lb l" style="left:222px;top:70px;width:58px"><b>VED</b><span>Ch: 1 / 36</span><span>Sta: 3 / 1&nbsp; (4)</span></div>
<svg class="ic" style="left:442px;top:21px" width="48" height="48" viewBox="0 0 48 48"><use href="#apic"/></svg><div class="lb g" style="left:428px;top:70px;width:64px"><b>cctv_jegul</b><span>Ch: 11 / 64</span><span>Sta: 4 / 6&nbsp; (10)</span></div>
<svg class="ic" style="left:572px;top:19px" width="48" height="48" viewBox="0 0 48 48"><use href="#apic"/></svg><div class="lb g" style="left:562px;top:68px;width:58px"><b>cisco_wifi</b><span>Ch: 1 / 36</span><span>Sta: 2 / 6&nbsp; (8)</span></div>
<svg class="ic" style="left:700px;top:20px" width="48" height="48" viewBox="0 0 48 48"><use href="#apic"/></svg><div class="lb g" style="left:674px;top:69px;width:89px"><b>snrteam_optics</b><span>Ch: 11 / 64</span><span>Sta: 3 / 3&nbsp; (6)</span></div>
<svg class="ic" style="left:113px;top:129px" width="48" height="48" viewBox="0 0 48 48"><use href="#apic"/></svg><div class="lb g" style="left:99px;top:178px;width:66px"><b>1C_Admins</b><span>Ch: 1 / 36</span><span>Sta: 8 / 0&nbsp; (8)</span></div>
<svg class="ic" style="left:299px;top:133px" width="48" height="48" viewBox="0 0 48 48"><use href="#apic"/></svg><div class="lb z" style="left:258px;top:182px;width:120px"><b>Conference_Room_1</b><span>Ch: 11 / 64</span><span>Sta: 0 / 0&nbsp; (0)</span></div>
<svg class="ic" style="left:444px;top:128px" width="48" height="48" viewBox="0 0 48 48"><use href="#apic"/></svg><div class="lb l" style="left:434px;top:177px;width:58px"><b>erd</b><span>Ch: 1 / 36</span><span>Sta: 2 / 3&nbsp; (5)</span></div>
<svg class="ic" style="left:572px;top:136px" width="48" height="48" viewBox="0 0 48 48"><use href="#apic"/></svg><div class="lb l" style="left:553px;top:185px;width:77px"><b>iptv_logistics</b><span>Ch: 11 / 64</span><span>Sta: 3 / 2&nbsp; (5)</span></div>
<svg class="ic" style="left:705px;top:130px" width="48" height="48" viewBox="0 0 48 48"><use href="#apic"/></svg><div class="lb g" style="left:692px;top:179px;width:64px"><b>Samodelko</b><span>Ch: 1 / 36</span><span>Sta: 2 / 4&nbsp; (6)</span></div>
<svg class="ic" style="left:105px;top:236px" width="48" height="48" viewBox="0 0 48 48"><use href="#apic"/></svg><div class="lb g" style="left:95px;top:285px;width:58px"><b>Reception</b><span>Ch: 11 / 64</span><span>Sta: 3 / 4&nbsp; (7)</span></div>
<svg class="ic" style="left:238px;top:240px" width="48" height="48" viewBox="0 0 48 48"><use href="#apic"/></svg><div class="lb z" style="left:228px;top:289px;width:58px"><b>Hall_1</b><span>Ch: 1 / 36</span><span>Sta: 0 / 0&nbsp; (0)</span></div>
<svg class="ic" style="left:465px;top:236px" width="48" height="48" viewBox="0 0 48 48"><use href="#apic"/></svg><div class="lb g" style="left:455px;top:285px;width:58px"><b>Hall_2</b><span>Ch: 11 / 64</span><span>Sta: 3 / 4&nbsp; (7)</span></div>
<svg class="ic" style="left:645px;top:237px" width="48" height="48" viewBox="0 0 48 48"><use href="#apic"/></svg><div class="lb l" style="left:627px;top:286px;width:74px"><b>Dining_room</b><span>Ch: 11 / 64</span><span>Sta: 3 / 1&nbsp; (4)</span></div>
<svg class="ic" style="left:367px;top:294px" width="48" height="48" viewBox="0 0 48 48"><use href="#apic"/></svg><div class="lb z" style="left:326px;top:343px;width:120px"><b>Conference_Room_2</b><span>Ch: 11 / 64</span><span>Sta: 0 / 0&nbsp; (0)</span></div>
<svg class="ic" style="left:592px;top:381px" width="48" height="48" viewBox="0 0 48 48"><use href="#apic"/></svg><div class="lb l" style="left:574px;top:430px;width:73px"><b>SMedvedeva</b><span>Ch: 1 / 36</span><span>Sta: 2 / 0&nbsp; (2)</span></div>
<svg class="ic" style="left:715px;top:379px" width="48" height="48" viewBox="0 0 48 48"><use href="#apic"/></svg><div class="lb l" style="left:704px;top:428px;width:59px"><b>EKrapivec</b><span>Ch: 11 / 64</span><span>Sta: 2 / 2&nbsp; (4)</span></div>
<svg class="ic" style="left:477px;top:476px" width="48" height="48" viewBox="0 0 48 48"><use href="#apic"/></svg><div class="lb l" style="left:462px;top:526px;width:66px"><b>Egorov_BH</b><span>Ch: 1 / 36</span><span>Sta: 3 / 0&nbsp; (3)</span></div>
<svg class="ic" style="left:561px;top:476px" width="48" height="48" viewBox="0 0 48 48"><use href="#apic"/></svg><div class="lb g" style="left:551px;top:526px;width:59px"><b>AEgorov</b><span>Ch: 11 / 64</span><span>Sta: 3 / 3&nbsp; (6)</span></div>
<svg class="ic" style="left:679px;top:476px" width="48" height="48" viewBox="0 0 48 48"><use href="#apic"/></svg><div class="lb y" style="left:667px;top:526px;width:64px"><b>AKorotkov</b><span>Ch: 1 / 36</span><span>Sta: 2 / 9&nbsp; (11)</span></div>
<svg class="ic" style="left:557px;top:576px" width="48" height="48" viewBox="0 0 48 48"><use href="#apic"/></svg><div class="lb g" style="left:546px;top:625px;width:59px"><b>ABarishev</b><span>Ch: 1 / 36</span><span>Sta: 6 / 0&nbsp; (6)</span></div>
<svg class="ic" style="left:680px;top:583px" width="48" height="48" viewBox="0 0 48 48"><use href="#apic"/></svg><div class="lb g" style="left:657px;top:632px;width:84px"><b>DSlobojaninov</b><span>Ch: 11 / 64</span><span>Sta: 6 / 4&nbsp; (10)</span></div>
<svg class="ic" style="left:551px;top:685px" width="48" height="48" viewBox="0 0 48 48"><use href="#apic"/></svg><div class="lb l" style="left:533px;top:734px;width:74px"><b>Zhdanov_BH</b><span>Ch: 11 / 64</span><span>Sta: 0 / 2&nbsp; (2)</span></div>
<svg class="ic" style="left:667px;top:682px" width="48" height="48" viewBox="0 0 48 48"><use href="#apic"/></svg><div class="lb g" style="left:657px;top:731px;width:58px"><b>OLeskova</b><span>Ch: 1 / 36</span><span>Sta: 4 / 2&nbsp; (6)</span></div>
</div>
</body></html>
